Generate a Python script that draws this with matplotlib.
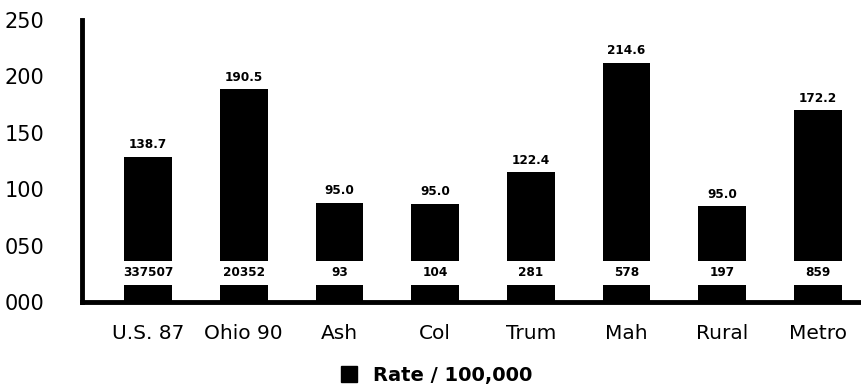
import matplotlib
matplotlib.use("Agg")
import matplotlib.pyplot as plt
from matplotlib.lines import Line2D

categories = ["U.S. 87", "Ohio 90", "Ash", "Col", "Trum", "Mah", "Rural", "Metro"]
rate_labels = ["138.7", "190.5", "95.0", "95.0", "122.4", "214.6", "95.0", "172.2"]
bar_tops = [128.5, 188.5, 88, 87, 115, 212, 85, 170]
counts = ["337507", "20352", "93", "104", "281", "578", "197", "859"]
yticks = [0, 50, 100, 150, 200, 250]

LOW_TOP = 15      # top of the lower stub segment
HIGH_BASE = 36    # bottom of the upper segment
COUNT_Y = 26      # vertical position of count labels

plt.rcParams['font.family'] = ['DejaVu Sans']

fig = plt.figure(figsize=(8.62, 3.87), dpi=100)
ax = fig.add_axes([82 / 862, 1 - 302 / 387, 1 - 82 / 862, (302 - 20) / 387])

x = list(range(len(categories)))
w = 0.5
ax.bar(x, [LOW_TOP] * len(x), width=w, color="black", zorder=2)
ax.bar(x, [t - HIGH_BASE for t in bar_tops], bottom=HIGH_BASE, width=w,
       color="black", zorder=2)

for xi, top, lab, cnt in zip(x, bar_tops, rate_labels, counts):
    ax.annotate(lab, (xi, top), xytext=(0, 4), textcoords="offset points",
                ha="center", va="bottom", fontsize=8.7, fontweight="bold")
    ax.text(xi, COUNT_Y, cnt, ha="center", va="center", fontsize=8.7,
            fontweight="bold")

ax.set_xlim(-0.69, 7.46)
ax.set_ylim(0, 250)
ax.set_yticks(yticks)
ax.set_yticklabels([f"{v:03d}" for v in yticks])
ax.set_xticks(x)
ax.set_xticklabels(categories)
ax.tick_params(axis="y", length=0, pad=27, labelsize=15)
ax.tick_params(axis="x", length=0, pad=16, labelsize=14.5)

for s in ["top", "right"]:
    ax.spines[s].set_visible(False)
ax.spines["left"].set_linewidth(3.5)
ax.spines["bottom"].set_linewidth(3.5)
ax.spines["left"].set_capstyle("projecting")
ax.spines["bottom"].set_capstyle("projecting")

handle = Line2D([], [], marker="s", color="black", linestyle="none", markersize=12)
fig.legend([handle], ["Rate / 100,000"], loc="center",
           bbox_to_anchor=(431 / 862, 1 - 375 / 387), frameon=False,
           handletextpad=0.25, prop={"size": 14, "weight": "bold"})

fig.savefig("out.png", dpi=100)
